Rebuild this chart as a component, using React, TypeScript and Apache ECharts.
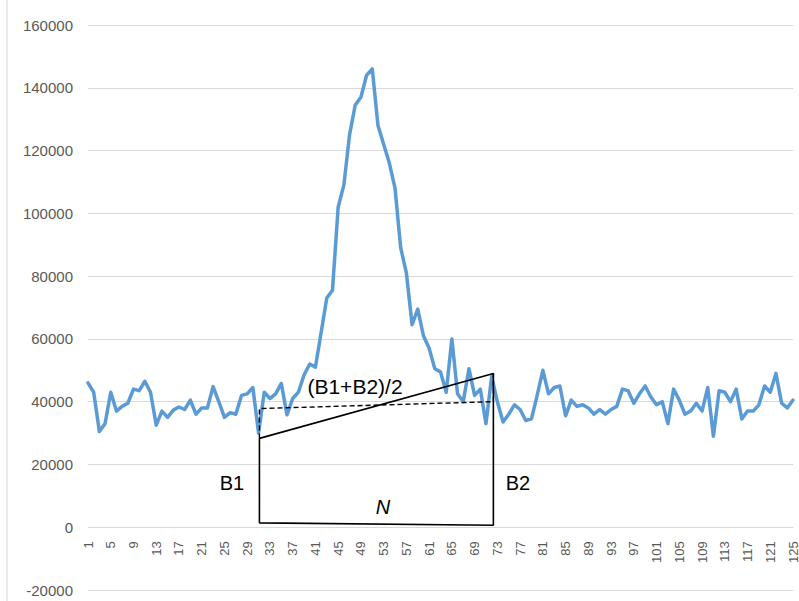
import React, { useEffect, useRef } from "react";
import * as echarts from "echarts";

// Category labels (sample index 1..125)
const categories: string[] = Array.from({ length: 125 }, (_, i) => String(i + 1));

const signal: number[] = [
  46000, 43000, 30500, 33000, 43000, 37000, 38500, 39500, 44000, 43500,
  46500, 43000, 32500, 37000, 35000, 37300, 38300, 37500, 40500, 36000,
  38000, 38000, 44800, 40000, 35000, 36500, 36000, 42000, 42500, 44500,
  30000, 43000, 41000, 42500, 45800, 35800, 41000, 43000, 48500, 52000,
  51000, 62000, 73000, 75500, 102000, 109000, 125000, 134500, 137000, 144000,
  146000, 128000, 122000, 116000, 108000, 89000, 81000, 64500, 69500, 61000,
  57000, 50500, 49500, 43000, 60000, 42500, 40000, 50500, 42000, 44000,
  33000, 48000, 40000, 33500, 36000, 39000, 37500, 34000, 34500, 42000,
  50000, 42500, 44500, 45000, 35500, 40500, 38500, 39000, 38000, 36000,
  37500, 36000, 37500, 38500, 44000, 43500, 39500, 42500, 45000, 41500,
  39000, 40000, 33000, 44000, 40500, 36000, 37000, 39500, 37000, 44500,
  29000, 43500, 43000, 40000, 44000, 34500, 37000, 37000, 39000, 45000,
  43000, 49000, 39500, 38000, 40500,
];

// Annotation: trapezoid between B1 and B2 (x as 0-based sample position)
const boxX: number[] = [30.15, 71.3];
const b1Value = 28300;
const b2Value = 49000;
const baseValues: number[] = [1400, 650];
const midValues: number[] = [37800, 40000];

// Y axis ticks
const yMin = -20000;
const yMax = 160000;
const yStep = 20000;

const FONT = "'Liberation Sans', Arial, sans-serif";

const GRID_TOP = 25;
const GRID_BOTTOM = 11;
const CHART_H = 601;

export default function App() {
  const ref = useRef<HTMLDivElement>(null);

  useEffect(() => {
    if (!ref.current) return;
    const chart = echarts.init(ref.current, undefined, { renderer: "svg" });

    const solidPath = [
      [boxX[0], b1Value],
      [boxX[0], baseValues[0]],
      [boxX[1], baseValues[1]],
      [boxX[1], b2Value],
      [boxX[0], b1Value],
    ];
    const dashedPath = [
      [boxX[0], b1Value],
      [boxX[0], midValues[0]],
      [boxX[1], midValues[1]],
      [boxX[1], b2Value],
    ];

    // place the category axis at the zero line
    const plotH = CHART_H - GRID_TOP - GRID_BOTTOM;
    const zeroOffset = -plotH * (0 - yMin) / (yMax - yMin);

    const textEl = (text: string, x: number, y: number, italic = false, size = 20) => ({
      type: "text",
      x,
      y,
      z: 100,
      style: {
        text,
        fill: "#000000",
        font: `${italic ? "italic " : ""}${size}px ${FONT}`,
        align: "center",
        verticalAlign: "middle",
        textAlign: "center",
        textVerticalAlign: "middle",
      },
    });

    chart.setOption({
      animation: false,
      backgroundColor: "#ffffff",
      grid: {
        left: 88,
        right: 6,
        top: GRID_TOP,
        bottom: GRID_BOTTOM,
        containLabel: false,
        outerBoundsMode: "none",
      },
      xAxis: [
        {
          type: "category",
          data: categories,
          boundaryGap: false,
          position: "bottom",
          offset: zeroOffset,
          axisLine: { show: true, onZero: false, lineStyle: { color: "#d9d9d9", width: 1 } },
          axisTick: { show: false },
          splitLine: { show: false },
          axisLabel: {
            interval: 3,
            rotate: 90,
            fontSize: 13,
            color: "#595959",
            fontFamily: FONT,
            margin: 14,
          },
        },
        { type: "value", min: 0, max: categories.length - 1, show: false },
      ],
      yAxis: {
        type: "value",
        min: yMin,
        max: yMax,
        interval: yStep,
        axisLine: { show: false },
        axisTick: { show: false },
        splitLine: { lineStyle: { color: "#d9d9d9", width: 1 } },
        axisLabel: {
          fontSize: 15,
          color: "#595959",
          fontFamily: FONT,
          margin: 15,
          formatter: (v: number) => String(v),
        },
      },
      series: [
        {
          type: "line",
          xAxisIndex: 0,
          data: signal,
          symbol: "none",
          lineStyle: { color: "#5b9bd5", width: 3.5, join: "round", cap: "round" },
          z: 2,
        },
        {
          type: "line",
          xAxisIndex: 1,
          data: dashedPath,
          symbol: "none",
          lineStyle: { color: "#000000", width: 1.4, type: [5, 3] },
          z: 3,
        },
        {
          type: "line",
          xAxisIndex: 1,
          data: solidPath,
          symbol: "none",
          lineStyle: { color: "#000000", width: 1.6 },
          z: 4,
        },
      ],
      graphic: [
        {
          type: "line",
          shape: { x1: 7, y1: 0, x2: 7, y2: 601 },
          style: { stroke: "#d9d9d9", lineWidth: 1 },
        },
        textEl("(B1+B2)/2", 355, 386, false, 21),
        textEl("B1", 232, 483),
        textEl("B2", 518, 483),
        textEl("N", 383, 507, true),
      ],
    });

    return () => chart.dispose();
  }, []);

  return (
    <div
      ref={ref}
      style={{ position: "absolute", left: 0, top: 0, width: 799, height: 601, background: "#fff" }}
    />
  );
}
